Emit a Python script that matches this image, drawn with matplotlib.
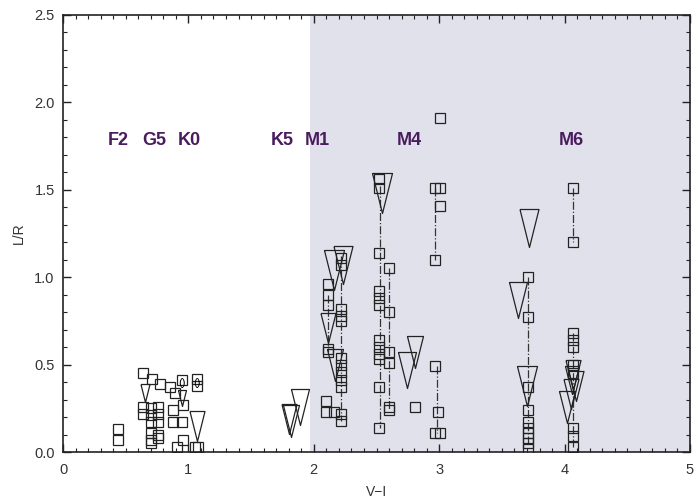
import numpy as np
import matplotlib.pyplot as plt
from matplotlib.ticker import MultipleLocator, FormatStrFormatter

plt.rcParams['font.family'] = ['Liberation Sans', 'DejaVu Sans']

# photometric epochs (squares): V-I colour and L/R
sq_vi = [0.44, 0.44,
         0.64, 0.71, 0.77, 0.64, 0.64, 0.70, 0.70, 0.70, 0.70, 0.70, 0.70,
         0.76, 0.76, 0.76, 0.76, 0.76, 0.85, 0.89, 0.88, 0.88, 0.91, 0.96,
         0.95, 1.07, 1.07, 0.96, 0.95, 1.05, 1.08,
         2.11, 2.11, 2.11, 2.11, 2.11, 2.10, 2.10, 2.16,
         2.22, 2.22, 2.22, 2.22, 2.22, 2.22, 2.22, 2.22, 2.22, 2.22, 2.22, 2.22,
         2.52, 2.52, 2.52, 2.52, 2.52, 2.52, 2.52, 2.52, 2.52, 2.52, 2.52, 2.52,
         2.60, 2.60, 2.60, 2.60, 2.60, 2.60, 2.81,
         3.01, 2.97, 3.01, 3.01, 2.97, 2.97, 2.99, 2.97, 3.01,
         3.71, 3.71, 3.71, 3.71, 3.71, 3.71, 3.71, 3.71, 3.71, 3.71,
         4.07, 4.07, 4.07, 4.07, 4.07, 4.07, 4.07, 4.07, 4.07, 4.07]
sq_lr = [0.13, 0.07,
         0.45, 0.42, 0.39, 0.26, 0.22, 0.25, 0.21, 0.17, 0.11, 0.07, 0.05,
         0.26, 0.22, 0.17, 0.10, 0.08, 0.37, 0.34, 0.24, 0.17, 0.03, 0.07,
         0.41, 0.42, 0.38, 0.27, 0.17, 0.03, 0.03,
         0.96, 0.90, 0.84, 0.59, 0.57, 0.29, 0.23, 0.23,
         1.11, 1.07, 0.82, 0.78, 0.75, 0.54, 0.50, 0.46, 0.41, 0.37, 0.22, 0.18,
         1.56, 1.51, 1.14, 0.92, 0.88, 0.84, 0.64, 0.60, 0.56, 0.53, 0.37, 0.14,
         1.05, 0.80, 0.57, 0.51, 0.26, 0.24, 0.26,
         1.91, 1.51, 1.51, 1.41, 1.10, 0.49, 0.23, 0.11, 0.11,
         1.00, 0.77, 0.37, 0.24, 0.17, 0.14, 0.11, 0.08, 0.05, 0.02,
         1.51, 1.20, 0.68, 0.64, 0.60, 0.50, 0.45, 0.14, 0.09, 0.03]

# spectroscopic epochs (triangles), symbol height in pixels
tri_vi = [0.65, 0.95, 1.07,
          1.89, 1.82, 1.80,
          2.16, 2.23, 2.11, 2.17,
          2.54, 2.74, 2.81,
          3.72, 3.63, 3.70,
          4.07, 4.06, 4.09, 4.05, 4.02]
tri_lr = [0.34, 0.31, 0.15,
          0.26, 0.18, 0.19,
          1.04, 1.07, 0.71, 0.50,
          1.48, 0.47, 0.57,
          1.28, 0.87, 0.38,
          0.44, 0.41, 0.38, 0.33, 0.26]
tri_px = [18, 16, 30,
          36, 32, 30,
          40, 38, 30, 32,
          40, 36, 32,
          38, 36, 40,
          30, 28, 30, 30, 32]

# dash-dot tracks joining epochs of one star: colour, top and bottom L/R
track_vi = [2.22, 2.11, 2.53, 2.60, 2.97, 2.98, 3.71, 4.07, 4.07]
track_hi = [1.12, 0.90, 1.52, 1.05, 1.51, 0.49, 1.00, 1.51, 0.68]
track_lo = [0.18, 0.57, 0.14, 0.24, 1.10, 0.11, 0.05, 1.20, 0.03]

# spectral types along the top
sp_types = ['F2', 'G5', 'K0', 'K5', 'M1', 'M4', 'M6']
sp_vi = [0.44, 0.73, 1.01, 1.75, 2.03, 2.76, 4.05]
sp_lr = 1.78

fig = plt.figure(figsize=(6.94, 5.0), dpi=100)
ax = fig.add_axes([63 / 694, 48 / 500, 627 / 694, 437 / 500])

ax.axvspan(1.97, 5.0, color='#e1e1eb', lw=0, zorder=0)

for x, hi, lo in zip(track_vi, track_hi, track_lo):
    ax.plot([x, x], [hi, lo], ls='-.', color='#333333', lw=0.9, zorder=1)

ax.plot(sq_vi, sq_lr, ls='none', marker='s', ms=6.8, mfc='none',
        mec='#222222', mew=0.9, zorder=2)

tri = [(-0.5, 1.0), (0.5, 1.0), (0.0, -1.0), (-0.5, 1.0)]
for x, y, h in zip(tri_vi, tri_lr, tri_px):
    ax.plot(x, y, ls='none', marker=tri, ms=h * 0.72, mfc='none',
            mec='#222222', mew=0.9, zorder=3)

ax.text(0.95, 0.395, '()', fontsize=8, ha='center', va='center')
ax.text(1.07, 0.395, '()', fontsize=8, ha='center', va='center')

for s, x in zip(sp_types, sp_vi):
    ax.text(x, sp_lr, s, color='#4a1c5e', fontsize=13, fontweight='bold',
            ha='center', va='center')

ax.set_xlim(0, 5)
ax.set_ylim(0, 2.5)
ax.xaxis.set_major_locator(MultipleLocator(1))
ax.xaxis.set_minor_locator(MultipleLocator(0.1))
ax.yaxis.set_major_locator(MultipleLocator(0.5))
ax.yaxis.set_minor_locator(MultipleLocator(0.1))
ax.yaxis.set_major_formatter(FormatStrFormatter('%.1f'))
ax.tick_params(which='both', direction='in', top=True, right=True,
               colors='#222222', labelcolor='#333333', labelsize=10.5)
ax.tick_params(which='major', length=6, width=1)
ax.tick_params(which='minor', length=3, width=0.8)
ax.tick_params(axis='x', pad=8)
ax.tick_params(axis='y', pad=6)
for sp in ax.spines.values():
    sp.set_linewidth(1.2)
    sp.set_color('#222222')

ax.set_xlabel('V\u2212I', fontsize=10, color='#333333', labelpad=6)
ax.set_ylabel('L/R', fontsize=10, color='#333333', labelpad=6)

fig.savefig('out.png', dpi=100)
